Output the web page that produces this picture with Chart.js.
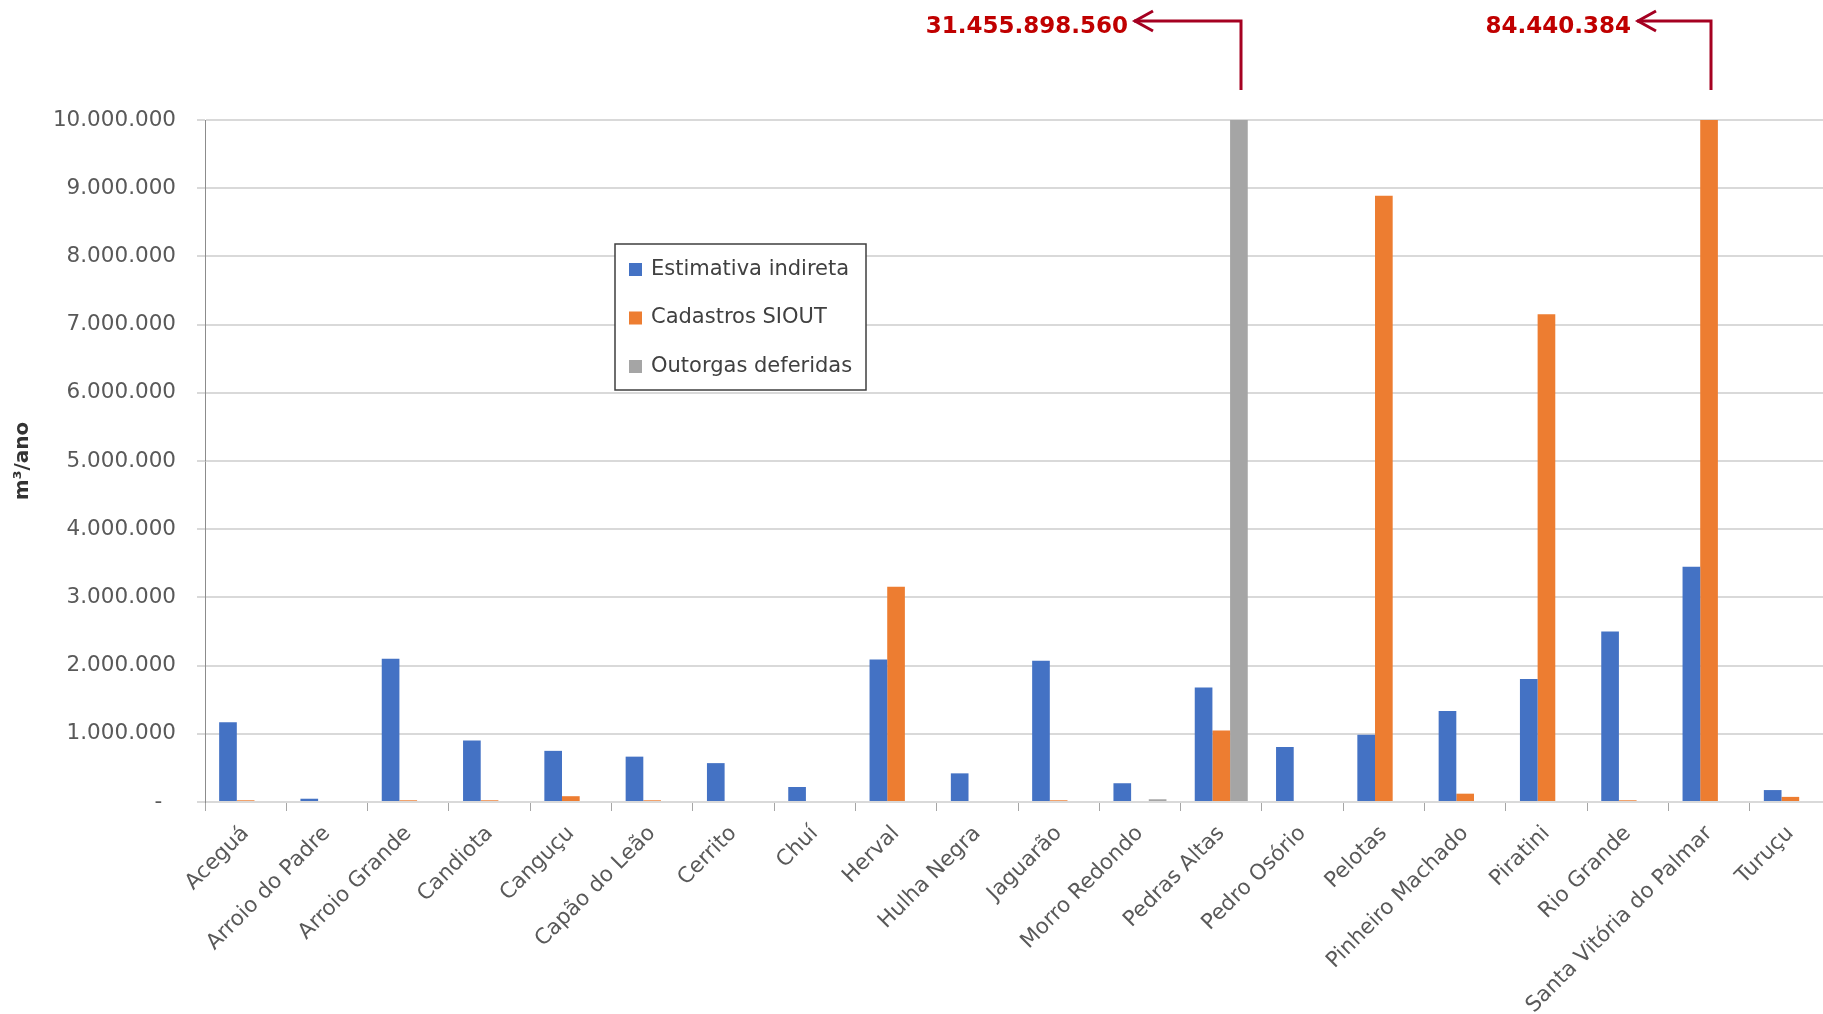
<!DOCTYPE html>
<html lang="pt-BR">
<head>
<meta charset="utf-8">
<title>Volumes de uso de água por município (m³/ano)</title>
<script src="https://cdn.jsdelivr.net/npm/chart.js@4/dist/chart.umd.min.js"></script>
<style>
  html, body { margin: 0; padding: 0; background: #ffffff; overflow: hidden; }
  #frame { width: 1823px; height: 1014px; overflow: hidden; position: relative; }
  canvas { display: block; }
</style>
</head>
<body>
<div id="frame"><canvas id="chart" width="1831" height="1014"></canvas></div>
<script>
// Municípios
const categories = [
  'Aceguá', 'Arroio do Padre', 'Arroio Grande', 'Candiota', 'Canguçu',
  'Capão do Leão', 'Cerrito', 'Chuí', 'Herval', 'Hulha Negra',
  'Jaguarão', 'Morro Redondo', 'Pedras Altas', 'Pedro Osório', 'Pelotas',
  'Pinheiro Machado', 'Piratini', 'Rio Grande', 'Santa Vitória do Palmar', 'Turuçu'
];

// Volumes em m³/ano
const estimativaIndireta = [
  1170000, 48000, 2100000, 900000, 750000,
  665000, 570000, 220000, 2090000, 420000,
  2070000, 275000, 1680000, 805000, 985000,
  1335000, 1805000, 2500000, 3450000, 175000
];
const cadastrosSiout = [
  25000, null, 25000, 25000, 85000,
  25000, null, null, 3157000, null,
  25000, null, 1050000, null, 8890000,
  122000, 7150000, 25000, 84440384, 75000
];
const outorgasDeferidas = [
  null, null, null, null, null,
  null, null, null, null, null,
  null, 40000, 31455898560, null, null,
  null, null, null, null, null
];

const seriesNames = ['Estimativa indireta', 'Cadastros SIOUT', 'Outorgas deferidas'];
const seriesColors = ['#4472C4', '#ED7D31', '#A5A5A5'];

// Eixo vertical
const yMax = 10000000;
const yStep = 1000000;

// Valores fora de escala indicados com seta: [série, município]
const offscaleNotes = [
  { dataset: 2, index: 12, tipGap: 107 },
  { dataset: 1, index: 18, tipGap: 74 }
];

const FONT = "'DejaVu Sans', sans-serif";

function fmtThousands(v) {
  return String(Math.round(v)).replace(/\B(?=(\d{3})+(?!\d))/g, '.');
}

// Legenda em caixa dentro da área do gráfico
const boxLegend = {
  id: 'boxLegend',
  afterDraw(chart, args, opts) {
    const ctx = chart.ctx;
    const { x, y, w, h, rowGap, firstRow } = opts;
    ctx.save();
    ctx.fillStyle = '#ffffff';
    ctx.fillRect(x, y, w, h);
    ctx.strokeStyle = '#3f3f3f';
    ctx.lineWidth = 1.5;
    ctx.strokeRect(x, y, w, h);
    ctx.font = '21px ' + FONT;
    ctx.textBaseline = 'middle';
    ctx.textAlign = 'left';
    chart.data.datasets.forEach((ds, i) => {
      const cy = y + firstRow + i * rowGap;
      ctx.fillStyle = ds.backgroundColor;
      ctx.fillRect(x + 14, cy - 6.5, 13, 13);
      ctx.fillStyle = '#404040';
      ctx.fillText(ds.label, x + 36, cy);
    });
    ctx.restore();
  }
};

// Setas com o valor real das barras que ultrapassam o eixo
const offscaleArrows = {
  id: 'offscaleArrows',
  afterDraw(chart) {
    const ctx = chart.ctx;
    ctx.save();
    offscaleNotes.forEach(n => {
      const bar = chart.getDatasetMeta(n.dataset).data[n.index];
      const value = chart.data.datasets[n.dataset].data[n.index];
      const bx = Math.round(bar.x) + 2;
      const lineY = 21;
      const tipX = bx - n.tipGap;
      ctx.strokeStyle = '#A50021';
      ctx.lineWidth = 3;
      ctx.lineJoin = 'miter';
      ctx.beginPath();
      ctx.moveTo(bx, 90);
      ctx.lineTo(bx, lineY);
      ctx.lineTo(tipX, lineY);
      ctx.stroke();
      ctx.beginPath();
      ctx.moveTo(tipX + 19, lineY - 10);
      ctx.lineTo(tipX + 1, lineY);
      ctx.lineTo(tipX + 19, lineY + 10);
      ctx.stroke();
      ctx.fillStyle = '#C00000';
      ctx.font = 'bold 23px ' + FONT;
      ctx.textAlign = 'right';
      ctx.textBaseline = 'alphabetic';
      ctx.fillText(fmtThousands(value), tipX - 6, 33);
    });
    ctx.restore();
  }
};

const datasets = [estimativaIndireta, cadastrosSiout, outorgasDeferidas].map((values, i) => ({
  label: seriesNames[i],
  data: values,
  backgroundColor: seriesColors[i],
  borderWidth: 0,
  clip: 0,
  categoryPercentage: 0.652,
  barPercentage: 1.0
}));

new Chart(document.getElementById('chart'), {
  type: 'bar',
  data: { labels: categories, datasets },
  plugins: [boxLegend, offscaleArrows],
  options: {
    responsive: false,
    animation: false,
    devicePixelRatio: 1,
    layout: { padding: { top: 120, left: 0, right: 0, bottom: 0 } },
    plugins: {
      legend: { display: false },
      tooltip: { enabled: false },
      boxLegend: { x: 615, y: 244, w: 251, h: 146, rowGap: 48.5, firstRow: 25.5 }
    },
    scales: {
      x: {
        ticks: {
          autoSkip: false,
          minRotation: 45,
          maxRotation: 45,
          color: '#595959',
          padding: 10,
          font: { family: FONT, size: 21.5 }
        },
        grid: { offset: true, drawOnChartArea: false, tickLength: 9, color: '#a6a6a6', lineWidth: 1 },
        border: { display: false },
        afterFit(scale) { scale.height = 212; }
      },
      y: {
        min: 0,
        max: yMax,
        ticks: {
          stepSize: yStep,
          color: '#595959',
          padding: 21,
          font: { family: FONT, size: 21.5 },
          callback: v => (v === 0 ? '-  ' : fmtThousands(v))
        },
        grid: { color: '#d9d9d9', lineWidth: 2, tickLength: 8 },
        border: { display: true, color: '#8c8c8c', width: 1 },
        title: {
          display: true,
          text: 'm³/ano',
          color: '#333333',
          padding: { top: 11, bottom: 0 },
          font: { family: FONT, size: 20, weight: 'bold' }
        },
        afterFit(scale) { scale.width = 205; }
      }
    }
  }
});
</script>
</body>
</html>
